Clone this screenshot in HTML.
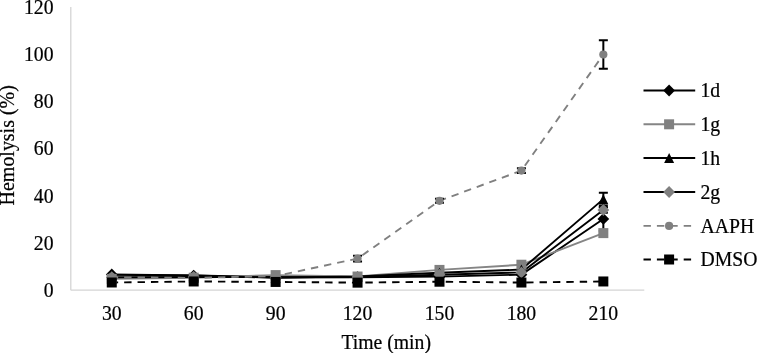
<!DOCTYPE html>
<html><head><meta charset="utf-8"><style>
html,body{margin:0;padding:0;background:#fff;width:757px;height:353px;overflow:hidden}
svg{display:block;will-change:transform}
text{font-family:"Liberation Serif",serif;font-size:19.7px;fill:#000;stroke:#000;stroke-width:0.22px}
</style></head><body>
<svg width="757" height="353" viewBox="0 0 757 353">
<line x1="70.8" y1="7.1" x2="70.8" y2="290.2" stroke="#d4d4d4" stroke-width="1.3"/>
<line x1="70.8" y1="290.2" x2="644.3" y2="290.2" stroke="#d4d4d4" stroke-width="1.3"/>
<polyline points="111.76,274.39 193.69,275.57 275.62,277.22 357.55,277.22 439.48,276.63 521.41,274.63 603.34,218.95" fill="none" stroke="#000" stroke-width="1.9" stroke-linejoin="round"/>
<polyline points="111.76,278.88 193.69,277.70 275.62,275.10 357.55,276.52 439.48,269.91 521.41,264.72 603.34,233.11" fill="none" stroke="#858585" stroke-width="1.9" stroke-linejoin="round"/>
<polyline points="111.76,274.87 193.69,275.57 275.62,277.70 357.55,276.40 439.48,272.74 521.41,269.56 603.34,199.14" fill="none" stroke="#000" stroke-width="1.9" stroke-linejoin="round"/>
<polyline points="111.76,277.22 193.69,276.99 275.62,277.22 357.55,276.99 439.48,274.77 521.41,272.39 603.34,209.99" fill="none" stroke="#000" stroke-width="1.9" stroke-linejoin="round"/>
<polyline points="111.76,277.22 193.69,277.93 275.62,276.05 357.55,258.59 439.48,200.79 521.41,170.59 603.34,54.52" fill="none" stroke="#808080" stroke-width="1.9" stroke-dasharray="7.4 6" stroke-dashoffset="1" stroke-linejoin="round"/>
<polyline points="111.76,282.49 193.69,281.47 275.62,281.94 357.55,282.65 439.48,281.71 521.41,282.53 603.34,281.47" fill="none" stroke="#000" stroke-width="1.9" stroke-dasharray="7.4 6" stroke-dashoffset="1" stroke-linejoin="round"/>
<path d="M603.34 207.16V230.75M598.84 207.16H607.84M598.84 230.75H607.84" stroke="#000" stroke-width="2" fill="none"/>
<path d="M111.76 268.49L117.66 274.39L111.76 280.29L105.86 274.39Z" fill="#000"/>
<path d="M193.69 269.67L199.59 275.57L193.69 281.47L187.79 275.57Z" fill="#000"/>
<path d="M275.62 271.32L281.52 277.22L275.62 283.12L269.72 277.22Z" fill="#000"/>
<path d="M357.55 271.32L363.45 277.22L357.55 283.12L351.65 277.22Z" fill="#000"/>
<path d="M439.48 270.73L445.38 276.63L439.48 282.53L433.58 276.63Z" fill="#000"/>
<path d="M521.41 268.73L527.31 274.63L521.41 280.53L515.51 274.63Z" fill="#000"/>
<path d="M603.34 213.05L609.24 218.95L603.34 224.85L597.44 218.95Z" fill="#000"/>
<rect x="106.76" y="273.88" width="10" height="10" fill="#808080"/>
<rect x="188.69" y="272.70" width="10" height="10" fill="#808080"/>
<rect x="270.62" y="270.10" width="10" height="10" fill="#808080"/>
<rect x="352.55" y="271.52" width="10" height="10" fill="#808080"/>
<rect x="434.48" y="264.91" width="10" height="10" fill="#808080"/>
<rect x="516.41" y="259.72" width="10" height="10" fill="#808080"/>
<rect x="598.34" y="228.11" width="10" height="10" fill="#808080"/>
<path d="M603.34 192.77V205.51M598.84 192.77H607.84M598.84 205.51H607.84" stroke="#000" stroke-width="2" fill="none"/>
<path d="M111.76 269.87L116.76 279.87L106.76 279.87Z" fill="#000"/>
<path d="M193.69 270.57L198.69 280.57L188.69 280.57Z" fill="#000"/>
<path d="M275.62 272.70L280.62 282.70L270.62 282.70Z" fill="#000"/>
<path d="M357.55 271.40L362.55 281.40L352.55 281.40Z" fill="#000"/>
<path d="M439.48 267.74L444.48 277.74L434.48 277.74Z" fill="#000"/>
<path d="M521.41 264.56L526.41 274.56L516.41 274.56Z" fill="#000"/>
<path d="M603.34 194.14L608.34 204.14L598.34 204.14Z" fill="#000"/>
<path d="M603.34 207.16V212.82M598.84 207.16H607.84M598.84 212.82H607.84" stroke="#000" stroke-width="2" fill="none"/>
<path d="M111.76 271.32L117.66 277.22L111.76 283.12L105.86 277.22Z" fill="#808080"/>
<path d="M193.69 271.09L199.59 276.99L193.69 282.89L187.79 276.99Z" fill="#808080"/>
<path d="M275.62 271.32L281.52 277.22L275.62 283.12L269.72 277.22Z" fill="#808080"/>
<path d="M357.55 271.09L363.45 276.99L357.55 282.89L351.65 276.99Z" fill="#808080"/>
<path d="M439.48 268.87L445.38 274.77L439.48 280.67L433.58 274.77Z" fill="#808080"/>
<path d="M521.41 266.49L527.31 272.39L521.41 278.29L515.51 272.39Z" fill="#808080"/>
<path d="M603.34 204.09L609.24 209.99L603.34 215.89L597.44 209.99Z" fill="#808080"/>
<path d="M357.55 255.76V261.42M353.05 255.76H362.05M353.05 261.42H362.05" stroke="#000" stroke-width="2" fill="none"/>
<path d="M439.48 198.83V202.75M434.98 198.83H443.98M434.98 202.75H443.98" stroke="#000" stroke-width="2" fill="none"/>
<path d="M521.41 168.30V172.88M516.91 168.30H525.91M516.91 172.88H525.91" stroke="#000" stroke-width="2" fill="none"/>
<path d="M603.34 40.36V68.67M598.84 40.36H607.84M598.84 68.67H607.84" stroke="#000" stroke-width="2" fill="none"/>
<circle cx="111.76" cy="277.22" r="4.1" fill="#808080"/>
<circle cx="193.69" cy="277.93" r="4.1" fill="#808080"/>
<circle cx="275.62" cy="276.05" r="4.1" fill="#808080"/>
<circle cx="357.55" cy="258.59" r="4.1" fill="#808080"/>
<circle cx="439.48" cy="200.79" r="4.1" fill="#808080"/>
<circle cx="521.41" cy="170.59" r="4.1" fill="#808080"/>
<circle cx="603.34" cy="54.52" r="4.1" fill="#808080"/>
<rect x="106.76" y="277.49" width="10" height="10" fill="#000"/>
<rect x="188.69" y="276.47" width="10" height="10" fill="#000"/>
<rect x="270.62" y="276.94" width="10" height="10" fill="#000"/>
<rect x="352.55" y="277.65" width="10" height="10" fill="#000"/>
<rect x="434.48" y="276.71" width="10" height="10" fill="#000"/>
<rect x="516.41" y="277.53" width="10" height="10" fill="#000"/>
<rect x="598.34" y="276.47" width="10" height="10" fill="#000"/>
<text transform="translate(53.5 297.00) scale(1 1.07)" text-anchor="end">0</text>
<text transform="translate(53.5 249.82) scale(1 1.07)" text-anchor="end">20</text>
<text transform="translate(53.5 202.63) scale(1 1.07)" text-anchor="end">40</text>
<text transform="translate(53.5 155.45) scale(1 1.07)" text-anchor="end">60</text>
<text transform="translate(53.5 108.27) scale(1 1.07)" text-anchor="end">80</text>
<text transform="translate(53.5 61.08) scale(1 1.07)" text-anchor="end">100</text>
<text transform="translate(53.5 13.90) scale(1 1.07)" text-anchor="end">120</text>
<text transform="translate(111.76 320.3) scale(1 1.07)" text-anchor="middle">30</text>
<text transform="translate(193.69 320.3) scale(1 1.07)" text-anchor="middle">60</text>
<text transform="translate(275.62 320.3) scale(1 1.07)" text-anchor="middle">90</text>
<text transform="translate(357.55 320.3) scale(1 1.07)" text-anchor="middle">120</text>
<text transform="translate(439.48 320.3) scale(1 1.07)" text-anchor="middle">150</text>
<text transform="translate(521.41 320.3) scale(1 1.07)" text-anchor="middle">180</text>
<text transform="translate(603.34 320.3) scale(1 1.07)" text-anchor="middle">210</text>
<text transform="translate(386.2 348.8) scale(1 1.07)" text-anchor="middle">Time (min)</text>
<text transform="translate(14.2 145.3) rotate(-90)" text-anchor="middle" style="font-size:19.95px">Hemolysis (%)</text>
<line x1="643.5" y1="90.5" x2="695.2" y2="90.5" stroke="#000" stroke-width="1.9"/>
<path d="M669.10 84.60L675.00 90.50L669.10 96.40L663.20 90.50Z" fill="#000"/>
<text transform="translate(700.5 97.30) scale(1 1.07)">1d</text>
<line x1="643.5" y1="124.3" x2="695.2" y2="124.3" stroke="#858585" stroke-width="1.9"/>
<rect x="664.10" y="119.30" width="10" height="10" fill="#808080"/>
<text transform="translate(700.5 131.10) scale(1 1.07)">1g</text>
<line x1="643.5" y1="158.0" x2="695.2" y2="158.0" stroke="#000" stroke-width="1.9"/>
<path d="M669.10 153.00L674.10 163.00L664.10 163.00Z" fill="#000"/>
<text transform="translate(700.5 164.80) scale(1 1.07)">1h</text>
<line x1="643.5" y1="192" x2="695.2" y2="192" stroke="#000" stroke-width="1.9"/>
<path d="M669.10 186.10L675.00 192.00L669.10 197.90L663.20 192.00Z" fill="#808080"/>
<text transform="translate(700.5 198.80) scale(1 1.07)">2g</text>
<line x1="643.5" y1="225.9" x2="695.2" y2="225.9" stroke="#808080" stroke-width="1.9" stroke-dasharray="7.4 6"/>
<circle cx="669.10" cy="225.90" r="4.1" fill="#808080"/>
<text transform="translate(700.5 232.70) scale(1 1.07)">AAPH</text>
<line x1="643.5" y1="259.5" x2="695.2" y2="259.5" stroke="#000" stroke-width="1.9" stroke-dasharray="7.4 6"/>
<rect x="664.10" y="254.50" width="10" height="10" fill="#000"/>
<text transform="translate(700.5 266.30) scale(1 1.07)">DMSO</text>
</svg>
</body></html>
